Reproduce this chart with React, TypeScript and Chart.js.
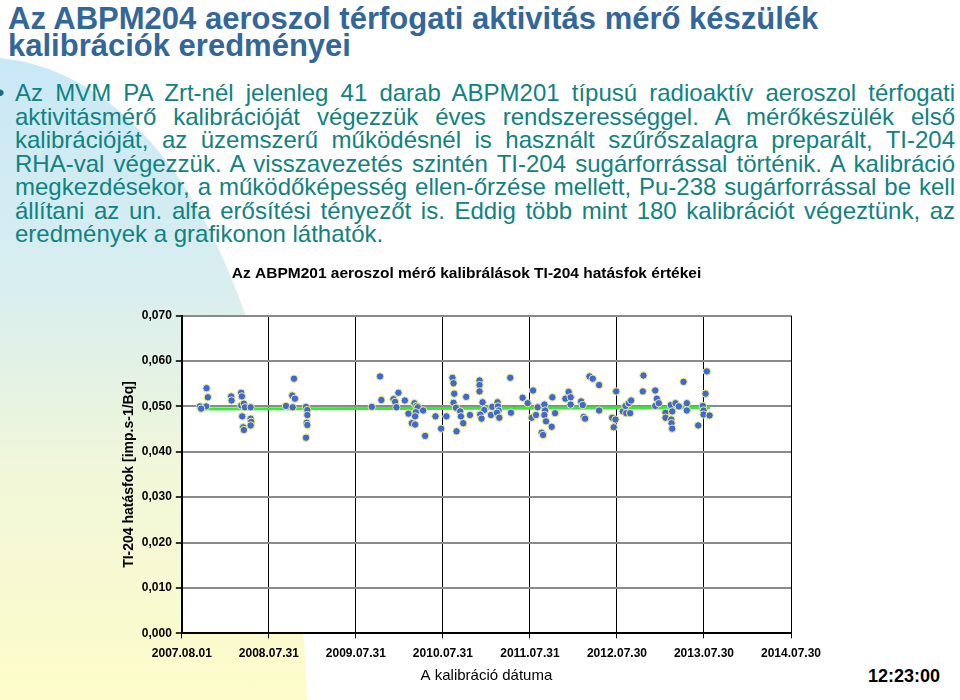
import React, { useEffect, useRef } from "react";
import { Chart, registerables } from "chart.js";

Chart.register(...registerables);

const slideTitle = ["Az ABPM204 aeroszol térfogati aktivitás mérő készülék", "kalibrációk eredményei"];
const bodyLines = [
  "Az MVM PA Zrt-nél jelenleg 41 darab ABPM201 típusú radioaktív aeroszol térfogati",
  "aktivitásmérő kalibrációját végezzük éves rendszerességgel. A mérőkészülék első",
  "kalibrációját, az üzemszerű működésnél is használt szűrőszalagra preparált, TI-204",
  "RHA-val végezzük. A visszavezetés szintén TI-204 sugárforrással történik. A kalibráció",
  "megkezdésekor, a működőképesség ellen-őrzése mellett, Pu-238 sugárforrással be kell",
  "állítani az un. alfa erősítési tényezőt is. Eddig több mint 180 kalibrációt végeztünk, az",
  "eredmények a grafikonon láthatók.",
];
const chartTitle = "Az ABPM201 aeroszol mérő kalibrálások TI-204 hatásfok értékei";
const xAxisTitle = "A kalibráció dátuma";
const yAxisTitle = "TI-204 hatásfok [imp.s-1/Bq]";
const clockText = "12:23:00";

const xTickLabels = ["2007.08.01", "2008.07.31", "2009.07.31", "2010.07.31", "2011.07.31", "2012.07.30", "2013.07.30", "2014.07.30"];
const yTickLabels = ["0,000", "0,010", "0,020", "0,030", "0,040", "0,050", "0,060", "0,070"];

// x: years elapsed since 2007.08.01, y: efficiency
const calibX = [
  0.284, 0.299, 0.280, 0.207, 0.222, 0.567, 0.572, 0.682, 0.690, 0.682,
  0.713, 0.725, 0.791, 0.694, 0.791, 0.797, 0.791, 0.705, 0.713, 1.289,
  1.269, 1.300, 1.197, 1.274, 1.427, 1.442, 1.442, 1.435, 1.442, 1.427,
  2.278, 2.293, 2.183, 2.432, 2.451, 2.489, 2.466, 2.563, 2.673, 2.696,
  2.712, 2.773, 2.604, 2.689, 2.681, 2.643, 2.681, 2.796, 2.915, 3.041,
  2.980, 3.110, 3.122, 3.130, 3.122, 3.150, 3.157, 3.199, 3.207, 3.234,
  3.268, 3.311, 3.421, 3.421, 3.421, 3.456, 3.475, 3.429, 3.444, 3.552,
  3.567, 3.628, 3.633, 3.640, 3.621, 3.648, 3.782, 3.774, 3.916, 3.974,
  4.036, 4.089, 4.020, 4.070, 4.166, 4.174, 4.166, 4.185, 4.135, 4.151,
  4.258, 4.250, 4.289, 4.407, 4.445, 4.468, 4.468, 4.588, 4.607, 4.618,
  4.634, 4.684, 4.722, 4.795, 4.795, 4.991, 4.945, 4.983, 4.963, 5.067,
  5.098, 5.136, 5.163, 5.106, 5.152, 5.305, 5.297, 5.440, 5.458, 5.440,
  5.481, 5.558, 5.558, 5.619, 5.635, 5.624, 5.627, 5.635, 5.673, 5.711,
  5.765, 5.803, 5.803, 5.987, 5.995, 6.018, 6.033, 5.995, 6.064, 5.934,
];
const calibY = [
  0.0540, 0.0520, 0.0500, 0.0500, 0.0495, 0.0522, 0.0513, 0.0530, 0.0522, 0.0502,
  0.0506, 0.0498, 0.0498, 0.0478, 0.0473, 0.0466, 0.0458, 0.0454, 0.0448, 0.0561,
  0.0524, 0.0517, 0.0501, 0.0498, 0.0499, 0.0492, 0.0481, 0.0464, 0.0459, 0.0431,
  0.0566, 0.0514, 0.0499, 0.0516, 0.0510, 0.0530, 0.0498, 0.0513, 0.0507, 0.0501,
  0.0498, 0.0491, 0.0484, 0.0487, 0.0478, 0.0463, 0.0460, 0.0435, 0.0478, 0.0478,
  0.0451, 0.0563, 0.0551, 0.0528, 0.0508, 0.0497, 0.0445, 0.0489, 0.0478, 0.0463,
  0.0521, 0.0481, 0.0557, 0.0547, 0.0533, 0.0509, 0.0492, 0.0482, 0.0473, 0.0481,
  0.0499, 0.0509, 0.0500, 0.0491, 0.0486, 0.0475, 0.0486, 0.0563, 0.0519, 0.0507,
  0.0535, 0.0498, 0.0475, 0.0481, 0.0504, 0.0491, 0.0481, 0.0467, 0.0442, 0.0437,
  0.0520, 0.0455, 0.0485, 0.0517, 0.0532, 0.0520, 0.0504, 0.0511, 0.0503, 0.0477,
  0.0473, 0.0566, 0.0561, 0.0547, 0.0491, 0.0533, 0.0475, 0.0471, 0.0454, 0.0489,
  0.0501, 0.0507, 0.0513, 0.0485, 0.0485, 0.0568, 0.0533, 0.0535, 0.0517, 0.0501,
  0.0507, 0.0486, 0.0475, 0.0503, 0.0489, 0.0471, 0.0463, 0.0451, 0.0507, 0.0500,
  0.0554, 0.0507, 0.0491, 0.0501, 0.0491, 0.0528, 0.0577, 0.0482, 0.0480, 0.0458,
];
const trendX = [0.21, 6.07];
const trendY = [0.0494, 0.0497];

const FONT = "Arial, 'Liberation Sans', sans-serif";

const plotBackground = {
  id: "plotBackground",
  beforeDraw(chart: any) {
    const { ctx, chartArea } = chart;
    if (!chartArea) return;
    ctx.save();
    ctx.fillStyle = "#ffffff";
    ctx.fillRect(chartArea.left, chartArea.top, chartArea.right - chartArea.left, chartArea.bottom - chartArea.top);
    ctx.restore();
  },
};

function CalibrationChart() {
  const ref = useRef<HTMLCanvasElement | null>(null);
  useEffect(() => {
    if (!ref.current) return;
    const chart = new Chart(ref.current, {
      type: "scatter",
      data: {
        datasets: [
          {
            label: "Kalibrálások",
            data: calibX.map((x, i) => ({ x, y: calibY[i] })),
            backgroundColor: "#4166d6",
            borderColor: "#eef27a",
            borderWidth: 1,
            pointRadius: 3.7,
            order: 1,
          } as any,
          {
            type: "line",
            label: "Trend",
            data: trendX.map((x, i) => ({ x, y: trendY[i] })),
            borderColor: "#33ec33",
            borderWidth: 3,
            pointRadius: 0,
            fill: false,
            order: 2,
          } as any,
        ],
      },
      options: {
        animation: false,
        responsive: false,
        maintainAspectRatio: false,
        layout: { padding: { left: 21, right: 9, top: 0, bottom: 17 } },
        plugins: {
          legend: { display: false },
          tooltip: { enabled: false },
          title: {
            display: true,
            text: chartTitle,
            color: "#000",
            font: { family: FONT, size: 15.5, weight: "bold" },
            padding: { top: 8, bottom: 33 },
          },
        },
        scales: {
          x: {
            type: "linear",
            min: 0,
            max: 7,
            afterFit: (scale: any) => {
              scale.paddingRight = 30;
            },
            ticks: {
              stepSize: 1,
              autoSkip: false,
              maxRotation: 0,
              color: "#000",
              font: { family: FONT, size: 12, weight: "bold" },
              padding: 8,
              callback: (v: any) => xTickLabels[Math.round(Number(v))] ?? "",
            },
            grid: { color: "#000", lineWidth: 1, tickLength: 5, tickColor: "#000" },
            border: { color: "#000", width: 2 },
            title: {
              display: true,
              text: xAxisTitle,
              color: "#000",
              font: { family: FONT, size: 15, lineHeight: 0.95 },
              padding: { top: 0, bottom: 0 },
            },
          },
          y: {
            min: 0,
            max: 0.07,
            ticks: {
              stepSize: 0.01,
              color: "#000",
              font: { family: FONT, size: 12, weight: "bold" },
              padding: 4,
              callback: (_v: any, i: number) => yTickLabels[i] ?? "",
            },
            grid: { color: "#8a8a8a", lineWidth: 2, tickLength: 6, tickColor: "#333" },
            border: { color: "#000", width: 2 },
            title: {
              display: true,
              text: yAxisTitle,
              color: "#000",
              font: { family: FONT, size: 14, weight: "bold" },
              padding: { top: 0, bottom: 0 },
            },
          },
        },
      } as any,
      plugins: [plotBackground],
    });
    return () => chart.destroy();
  }, []);
  return (
    <canvas
      ref={ref}
      width={721}
      height={444}
      style={{ position: "absolute", left: 100, top: 256, width: 721, height: 444 }}
    />
  );
}

export default function App() {
  return (
    <div
      style={{
        position: "absolute",
        left: 0,
        top: 0,
        width: 960,
        height: 700,
        overflow: "hidden",
        background: "#ffffff",
        fontFamily: FONT,
      }}
    >
      <svg width={960} height={700} style={{ position: "absolute", left: 0, top: 0 }}>
        <defs>
          <linearGradient id="slideBg" x1="0" y1="0" x2="0" y2="1">
            <stop offset="0" stopColor="#c9e8f6" />
            <stop offset="0.35" stopColor="#d8eef0" />
            <stop offset="0.65" stopColor="#f1f7d8" />
            <stop offset="1" stopColor="#fdfcc9" />
          </linearGradient>
        </defs>
        <path d="M0,58 C140,72 290,240 307,700 L0,700 Z" fill="url(#slideBg)" />
      </svg>

      <div
        style={{
          position: "absolute",
          left: 8,
          top: 5,
          fontSize: 31,
          lineHeight: "27px",
          fontWeight: "bold",
          color: "#336699",
          whiteSpace: "nowrap",
        }}
      >
        {slideTitle.map((t, i) => (
          <div key={i}>{t}</div>
        ))}
      </div>

      <div style={{ position: "absolute", left: -4, top: 81, fontSize: 24, lineHeight: "23.5px", color: "#1b6f7a" }}>•</div>
      <div
        style={{
          position: "absolute",
          left: 15,
          top: 81,
          width: 940,
          fontSize: 24,
          lineHeight: "23.5px",
          color: "#0f8282",
        }}
      >
        {bodyLines.map((t, i) => (
          <div
            key={i}
            style={{
              whiteSpace: "nowrap",
              textAlign: i === bodyLines.length - 1 ? "left" : "justify",
              textAlignLast: i === bodyLines.length - 1 ? "left" : "justify",
            }}
          >
            {t}
          </div>
        ))}
      </div>

      <CalibrationChart />

      <div
        style={{
          position: "absolute",
          left: 868,
          top: 665,
          fontSize: 18,
          lineHeight: "22px",
          fontWeight: "bold",
          color: "#000",
          whiteSpace: "nowrap",
        }}
      >
        {clockText}
      </div>
    </div>
  );
}
